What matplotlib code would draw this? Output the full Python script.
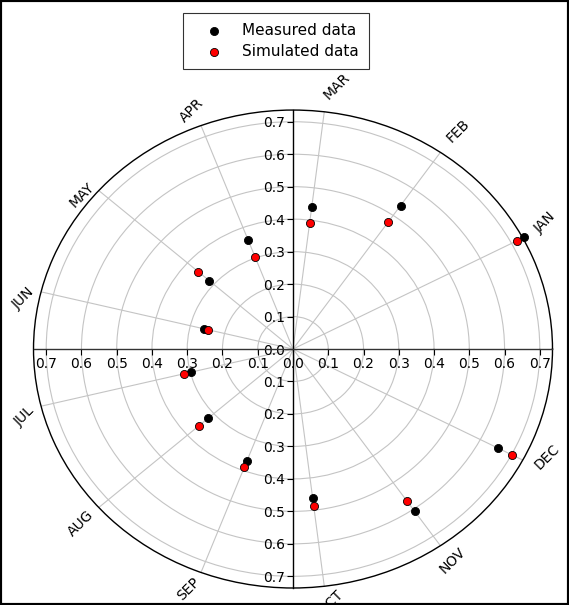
import numpy as np
import matplotlib
matplotlib.use("Agg")
import matplotlib.pyplot as plt
from matplotlib.patches import Rectangle
from matplotlib.ticker import FuncFormatter

plt.rcParams['font.family'] = ['DejaVu Sans']

# data
months = ['JAN', 'FEB', 'MAR', 'APR', 'MAY', 'JUN',
          'JUL', 'AUG', 'SEP', 'OCT', 'NOV', 'DEC']
measured = [0.740, 0.537, 0.441, 0.358, 0.318, 0.259,
            0.298, 0.321, 0.369, 0.463, 0.607, 0.658]
simulated = [0.719, 0.476, 0.390, 0.302, 0.359, 0.248,
             0.317, 0.358, 0.390, 0.487, 0.567, 0.700]
r_ticks = [0.1, 0.2, 0.3, 0.4, 0.5, 0.6, 0.7]
rmax = 0.736

# month k sits at k/13 of the full turn
theta = [2 * np.pi * (i + 1) / 13 for i in range(len(months))]

fig = plt.figure(figsize=(5.69, 6.05), dpi=100)
pos = [0.0589, 0.0281, 0.9121, 0.790]

ax = fig.add_axes(pos, projection='polar')
ax.set_aspect('auto')
ax.set_rlim(0, rmax)
ax.set_rticks(r_ticks)
ax.set_yticklabels([])
ax.set_xticks(theta)
ax.set_xticklabels([])
ax.tick_params(axis='x', direction='out', length=5, width=0.8)
ax.grid(True, color='#c4c4c4', lw=0.8)
ax.spines['polar'].set_linewidth(1.0)
ax.spines['polar'].set_color('black')


def month_label(th, name):
    # all labels sit at 45 deg, touching the tick from the outside
    d = np.degrees(th)
    if d < 100 or d > 320:
        ha, va, f = 'left', 'center', 1.06
    elif d < 125:
        ha, va, f = 'center', 'bottom', 1.045
    elif d < 260:
        ha, va, f = 'right', 'center', 1.035
    else:
        ha, va, f = 'center', 'top', 1.05
    ax.text(th, rmax * f, name, rotation=45, rotation_mode='anchor',
            ha=ha, va=va, fontsize=10, clip_on=False)


for th, name in zip(theta, months):
    month_label(th, name)

ax.scatter(theta, measured, s=34, c='black', edgecolors='black',
           linewidths=0.6, zorder=5, clip_on=False)
ax.scatter(theta, simulated, s=34, c='red', edgecolors='black',
           linewidths=0.6, zorder=6, clip_on=False)

# cartesian cross with the radius scale
ax2 = fig.add_axes(pos)
ax2.patch.set_visible(False)
ax2.set_xlim(-rmax, rmax)
ax2.set_ylim(-rmax, rmax)
for s in ['top', 'right']:
    ax2.spines[s].set_visible(False)
ax2.spines['left'].set_position(('data', 0))
ax2.spines['bottom'].set_position(('data', 0))
ax2.spines['left'].set_color('black')
ax2.spines['bottom'].set_color('#333333')
ax2.spines['left'].set_linewidth(1.0)
ax2.spines['bottom'].set_linewidth(1.0)
ticks = [-t for t in r_ticks[::-1]] + [0.0] + r_ticks
ax2.set_xticks(ticks)
ax2.set_yticks(ticks)
fmt = FuncFormatter(lambda v, p: '%.1f' % abs(v))
ax2.xaxis.set_major_formatter(fmt)
ax2.yaxis.set_major_formatter(fmt)
ax2.tick_params(direction='out', length=4, width=0.8, labelsize=10, pad=2)

h1 = ax2.scatter([], [], s=34, c='black', edgecolors='black', linewidths=0.6)
h2 = ax2.scatter([], [], s=34, c='red', edgecolors='black', linewidths=0.6)
leg = fig.legend([h1, h2], ['Measured data', 'Simulated data'],
                 loc='upper center', bbox_to_anchor=(0.485, 0.979),
                 borderaxespad=0, fontsize=11, frameon=True, fancybox=False,
                 handletextpad=0.5, labelspacing=0.4, borderpad=0.65,
                 handlelength=2.7)
leg.get_frame().set_edgecolor('black')
leg.get_frame().set_linewidth(0.8)

fig.patches.append(Rectangle((0, 0), 1, 1, transform=fig.transFigure,
                             fill=False, lw=3, ec='black'))

fig.savefig('out.png', dpi=100)
